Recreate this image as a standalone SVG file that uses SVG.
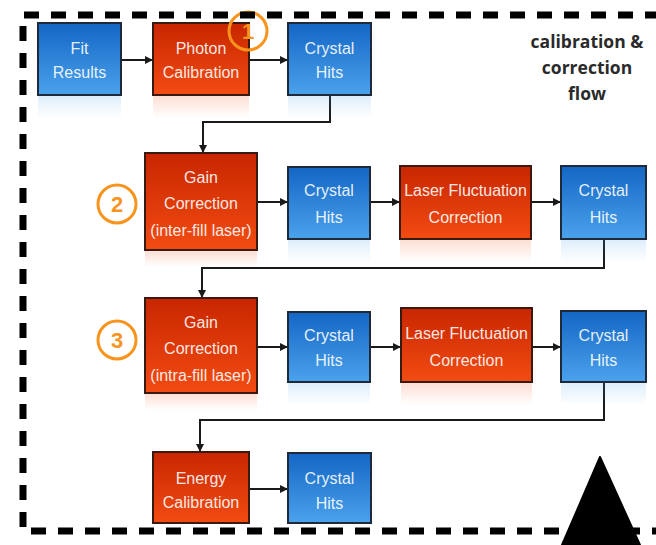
<svg xmlns="http://www.w3.org/2000/svg" width="656" height="545" viewBox="0 0 656 545">
<defs>
<linearGradient id="gBlue" x1="0" y1="0" x2="0" y2="1">
<stop offset="0" stop-color="#1466c4"/><stop offset="1" stop-color="#4ba2ec"/>
</linearGradient>
<linearGradient id="gRed" x1="0" y1="0" x2="0" y2="1">
<stop offset="0" stop-color="#c82600"/><stop offset="1" stop-color="#f24c12"/>
</linearGradient>
<linearGradient id="rBlue" x1="0" y1="0" x2="0" y2="1">
<stop offset="0" stop-color="#4ba2ec" stop-opacity="0.18"/><stop offset="1" stop-color="#4ba2ec" stop-opacity="0"/>
</linearGradient>
<linearGradient id="rRed" x1="0" y1="0" x2="0" y2="1">
<stop offset="0" stop-color="#f24c12" stop-opacity="0.18"/><stop offset="1" stop-color="#f24c12" stop-opacity="0"/>
</linearGradient>
<marker id="arr" markerWidth="8" markerHeight="8" refX="7" refY="4" orient="auto" markerUnits="userSpaceOnUse">
<path d="M0,0 L8,4 L0,8 Z" fill="#1a1a1a"/>
</marker>
</defs>
<style>
.blue{fill:url(#gBlue);stroke:#1e2a3a;stroke-width:2}
.red{fill:url(#gRed);stroke:#3a1a10;stroke-width:2}
.rb{fill:url(#rBlue)}
.rr{fill:url(#rRed)}
.t{font-family:"Liberation Sans",Arial,sans-serif;font-size:16px;fill:#ffffff;fill-opacity:0.9;text-anchor:middle}
.c{fill:none;stroke:#1a1a1a;stroke-width:2}
.ring{fill:none;stroke:#f7941d;stroke-width:3}
.num{font-family:"Liberation Sans",Arial,sans-serif;font-size:22px;font-weight:bold;fill:#f7941d;text-anchor:middle}
.title{font-family:"Open Sans","DejaVu Sans",sans-serif;font-size:17.5px;font-weight:bold;fill:#2a2a2a;text-anchor:middle}
</style>
<rect width="656" height="545" fill="#ffffff"/>

<g id="connectors">
<path class="c" d="M121,60 H152" marker-end="url(#arr)"/>
<path class="c" d="M249,60 H287" marker-end="url(#arr)"/>
<path class="c" d="M330,95 V122 H203 V152" marker-end="url(#arr)"/>
<path class="c" d="M257,202 H287" marker-end="url(#arr)"/>
<path class="c" d="M370,202 H399" marker-end="url(#arr)"/>
<path class="c" d="M531,202 H560" marker-end="url(#arr)"/>
<path class="c" d="M604,239 V268 H202 V297" marker-end="url(#arr)"/>
<path class="c" d="M257,347 H287" marker-end="url(#arr)"/>
<path class="c" d="M370,347 H400" marker-end="url(#arr)"/>
<path class="c" d="M532,347 H560" marker-end="url(#arr)"/>
<path class="c" d="M604,382 V420 H200 V451" marker-end="url(#arr)"/>
<path class="c" d="M249,489 H287" marker-end="url(#arr)"/>
</g>

<g id="fit-results">
<rect class="rb" x="38" y="96" width="83" height="22"/>
<rect class="blue" x="38" y="23" width="83" height="72"/>
<text class="t" x="79.5" y="54">Fit</text>
<text class="t" x="79.5" y="78">Results</text>
</g>
<g id="photon-calibration">
<rect class="rr" x="153" y="96" width="96" height="22"/>
<rect class="red" x="153" y="23" width="96" height="72"/>
<text class="t" x="201" y="54">Photon</text>
<text class="t" x="201" y="78">Calibration</text>
</g>
<g id="crystal-hits-1">
<rect class="rb" x="288" y="96" width="83" height="22"/>
<rect class="blue" x="288" y="23" width="83" height="72"/>
<text class="t" x="329.5" y="54">Crystal</text>
<text class="t" x="329.5" y="78">Hits</text>
</g>
<g id="marker-1">
<circle class="ring" cx="248" cy="31" r="19"/>
<text class="num" x="248" y="39">1</text>
</g>

<g id="gain-correction-inter">
<rect class="rr" x="145" y="251" width="112" height="16"/>
<rect class="red" x="145" y="153" width="112" height="97"/>
<text class="t" x="201" y="183">Gain</text>
<text class="t" x="201" y="209">Correction</text>
<text class="t" x="201" y="236">(inter-fill laser)</text>
</g>
<g id="marker-2">
<circle class="ring" cx="117" cy="204" r="19"/>
<text class="num" x="117" y="212">2</text>
</g>
<g id="crystal-hits-2">
<rect class="rb" x="288" y="240" width="82" height="22"/>
<rect class="blue" x="288" y="167" width="82" height="72"/>
<text class="t" x="329" y="196">Crystal</text>
<text class="t" x="329" y="223">Hits</text>
</g>
<g id="laser-fluctuation-1">
<rect class="rr" x="400" y="240" width="131" height="22"/>
<rect class="red" x="400" y="166" width="131" height="73"/>
<text class="t" x="465.5" y="196">Laser Fluctuation</text>
<text class="t" x="465.5" y="223">Correction</text>
</g>
<g id="crystal-hits-3">
<rect class="rb" x="561" y="240" width="85" height="22"/>
<rect class="blue" x="561" y="166" width="85" height="73"/>
<text class="t" x="603.5" y="196">Crystal</text>
<text class="t" x="603.5" y="223">Hits</text>
</g>

<g id="gain-correction-intra">
<rect class="rr" x="145" y="394" width="112" height="16"/>
<rect class="red" x="145" y="298" width="112" height="95"/>
<text class="t" x="201" y="328">Gain</text>
<text class="t" x="201" y="354">Correction</text>
<text class="t" x="201" y="381">(intra-fill laser)</text>
</g>
<g id="marker-3">
<circle class="ring" cx="117" cy="340" r="19"/>
<text class="num" x="117" y="348">3</text>
</g>
<g id="crystal-hits-4">
<rect class="rb" x="288" y="383" width="82" height="22"/>
<rect class="blue" x="288" y="312" width="82" height="70"/>
<text class="t" x="329" y="341">Crystal</text>
<text class="t" x="329" y="366">Hits</text>
</g>
<g id="laser-fluctuation-2">
<rect class="rr" x="401" y="383" width="131" height="22"/>
<rect class="red" x="401" y="308" width="131" height="74"/>
<text class="t" x="466.5" y="339">Laser Fluctuation</text>
<text class="t" x="466.5" y="366">Correction</text>
</g>
<g id="crystal-hits-5">
<rect class="rb" x="561" y="383" width="85" height="22"/>
<rect class="blue" x="561" y="311" width="85" height="71"/>
<text class="t" x="603.5" y="341">Crystal</text>
<text class="t" x="603.5" y="366">Hits</text>
</g>

<g id="energy-calibration">
<rect class="red" x="153" y="452" width="96" height="71"/>
<text class="t" x="201" y="484">Energy</text>
<text class="t" x="201" y="508">Calibration</text>
</g>
<g id="crystal-hits-6">
<rect class="blue" x="288" y="453" width="83" height="70"/>
<text class="t" x="329.5" y="484">Crystal</text>
<text class="t" x="329.5" y="509">Hits</text>
</g>

<g id="frame">
<path d="M660,15 H23 V531 H660" fill="none" stroke="#000000" stroke-width="7" stroke-dasharray="15 12"/>
</g>

<g id="title">
<text class="title" x="587" y="48">calibration &amp;</text>
<text class="title" x="587" y="74">correction</text>
<text class="title" x="587" y="100">flow</text>
</g>

<polygon id="triangle" points="600,457 562,545 640,545" fill="#000000" stroke="#000000" stroke-width="2" stroke-linejoin="round"/>
</svg>
